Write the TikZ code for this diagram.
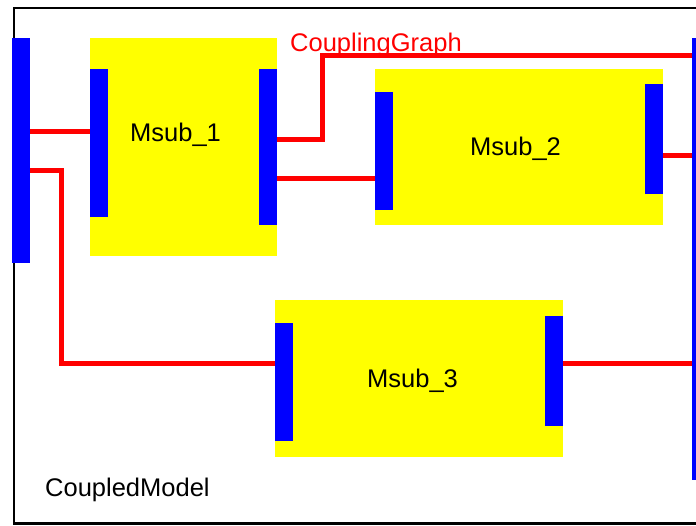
\documentclass[tikz,border=0pt]{standalone}
\usepackage{fontspec}
\setmainfont{Liberation Sans}
\definecolor{ylw}{RGB}{255,255,0}
\definecolor{blu}{RGB}{0,0,255}
\definecolor{rd}{RGB}{255,0,0}
\begin{document}
\begin{tikzpicture}[x=1pt,y=-1pt,
  bar/.style={rectangle,fill=blu,draw=none,inner sep=0pt,minimum width=18pt},
  model/.style={rectangle,fill=ylw,draw=none,inner sep=0pt},
  link/.style={draw=rd,line width=5pt},
  lbl/.style={inner sep=0pt,anchor=base west,font=\fontsize{25.5}{30}\selectfont}]
\useasboundingbox (0,0) rectangle (696,525);
\clip (0,0) rectangle (696,525);
\draw[line width=2.5pt] (14,8) rectangle (730,523.5);
% coupled models
\node[model,minimum width=187pt,minimum height=218pt] (M1) at (183.5,147) {};
\node[model,minimum width=288pt,minimum height=156pt] (M2) at (519,147) {};
\node[model,minimum width=288pt,minimum height=157pt] (M3) at (419,378.5) {};
% ports
\node[bar,minimum height=225pt] (L) at (21,150.5) {};
\node[bar,minimum height=148pt] (M1in) at (99,143) {};
\node[bar,minimum height=156pt] (M1out) at (268,147) {};
\node[bar,minimum height=118pt] (M2in) at (384,151) {};
\node[bar,minimum height=110pt] (M2out) at (654,139) {};
\node[bar,minimum height=118pt] (M3in) at (284,382) {};
\node[bar,minimum height=110pt] (M3out) at (554,371) {};
\node[bar,minimum height=442pt] (R) at (701,259) {};
% helper coordinates
\coordinate (h131) at (0,131);
\coordinate (h170) at (0,170);
\coordinate (h139) at (0,139);
\coordinate (h55) at (0,55);
\coordinate (h178) at (0,178);
\coordinate (h155) at (0,155);
\coordinate (h363) at (0,363);
\coordinate (k) at (61,0);
\coordinate (j) at (322,0);
% couplings
\draw[link] (L.east |- h131) -- (M1in.west |- h131);
\draw[link] (L.east |- h170) -| (k |- h363) -- (M3in.west |- h363);
\draw[link] (M1out.east |- h139) -| (j |- h55) -- (R.west |- h55);
\draw[link] (M1out.east |- h178) -- (M2in.west |- h178);
\draw[link] (M2out.east |- h155) -- (R.west |- h155);
\draw[link] (M3out.east |- h363) -- (R.west |- h363);
% labels
\node[lbl] (t1) at (130,141.7) {Msub\_1};
\node[lbl] (t2) at (470,155) {Msub\_2};
\node[lbl] (t3) at (367,387) {Msub\_3};
\node[lbl,text=rd] (tg) at (290,51) {CouplingGraph};
\node[lbl] (tc) at (45,496) {CoupledModel};
\end{tikzpicture}
\end{document}
